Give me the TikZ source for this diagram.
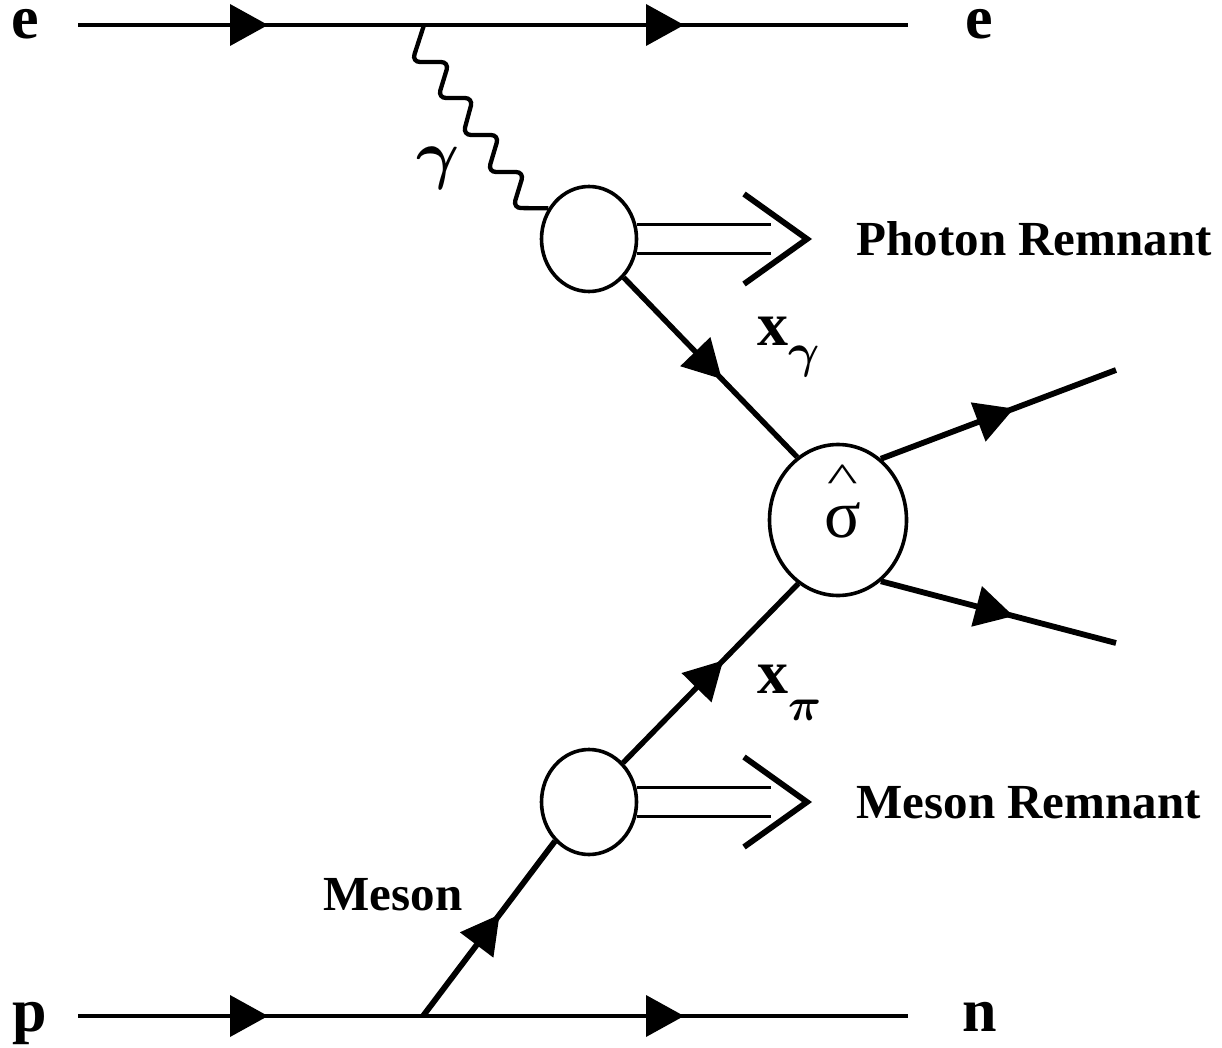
\documentclass[tikz,border=0pt]{standalone}
\usepackage{fontspec}
\setmainfont{Liberation Serif}
\usetikzlibrary{shapes.geometric,decorations.markings}
\newcommand{\bigsym}[2]{{\fontsize{10}{10}\selectfont\boldmath\scalebox{#1}{$#2$}}}
\tikzset{
  farrow/.style={postaction={decorate,decoration={markings,
      mark=at position #1 with {\fill (0,0) -- (-38,21) -- (-38,-21) -- cycle;}}}},
  prop/.style={line width=4.6pt},
  parton/.style={line width=5.4pt},
  outline/.style={line width=5.8pt},
  blob/.style={draw,ellipse,line width=3.6pt,inner sep=0pt},
  remline/.style={line width=3.7pt},
  chevron/.style={line width=5.8pt,miter limit=10},
  wave/.style={line width=4.3pt,rounded corners=8pt},
  big/.style={font=\fontsize{62}{62}\selectfont\bfseries,inner sep=0pt},
  lab/.style={font=\fontsize{49}{49}\selectfont\bfseries},
}
\begin{document}
\begin{tikzpicture}[x=1pt,y=-1pt]
\useasboundingbox (0,0) rectangle (1222,1048);
% blobs
\node[blob,minimum width=95pt,minimum height=105pt] (up) at (589,239) {};
\node[blob,minimum width=95pt,minimum height=105pt] (lo) at (589,802) {};
\node[blob,minimum width=137pt,minimum height=151pt] (sig) at (838,520) {};
% coordinates
\coordinate (eL) at (78,25);
\coordinate (eR) at (908,25);
\coordinate (pL) at (78,1016);
\coordinate (nR) at (908,1016);
\coordinate (vg) at (424,25);
\coordinate (mv) at (423,1016);
\coordinate (o1) at (1116,370);
\coordinate (o2) at (1116,643);
% lepton and baryon lines
\draw[prop,farrow=190pt,farrow=606pt] (eL) -- (eR);
\draw[prop,farrow=190pt,farrow=606pt] (pL) -- (nR);
% photon
\draw[wave] (vg) -- (412,62) -- (449,62) -- (438,98) -- (473,98) -- (463,135)
  -- (499,135) -- (488,172) -- (524,172) -- (513,208) -- (up.143);
% meson
\draw[outline,farrow=127pt] (mv) -- (lo.-131);
% partons
\draw[parton,farrow=141pt] (up.-48.9) -- (sig.123);
\draw[parton,farrow=143pt] (lo.49.6) -- (sig.-122.4);
\draw[outline,farrow=142pt] (sig.55.9) -- (o1);
\draw[outline,farrow=137pt] (sig.-55.9) -- (o2);
% remnants
\draw[remline] (up.17.7) -- ++(134,0);
\draw[remline] (up.-17.7) -- ++(134,0);
\draw[chevron] ([shift={(155,-45)}]up.center) -- ++(63,45) -- ++(-63,45);
\draw[remline] (lo.17.7) -- ++(134,0);
\draw[remline] (lo.-17.7) -- ++(134,0);
\draw[chevron] ([shift={(155,-45)}]lo.center) -- ++(63,45) -- ++(-63,45);
% labels
\node[big,anchor=base] (le) at (25,39) {e};
\node[big,anchor=base] (re) at (979,39) {e};
\node[big,anchor=base] (lp) at (30,1031) {p};
\node[big,anchor=base] (rn) at (980,1031) {n};
\node[lab,anchor=base west] (pr) at (853,256) {Photon Remnant};
\node[lab,anchor=base west] (mr) at (853,818) {Meson Remnant};
\node[lab,anchor=base west] (ml) at (320,910) {Meson};
\node[inner sep=0pt] (gl) at (438,168) {\bigsym{6.6}{\gamma}};
\node[big,anchor=base west] (xg) at (757,345)
  {x\raisebox{-22pt}{\bigsym{4.8}{\gamma}}};
\node[big,anchor=base west] (xp) at (757,693)
  {x\raisebox{-27pt}{\bigsym{4.6}{\pi}}};
\node[font=\fontsize{68}{68}\selectfont,inner sep=0pt] (sg) at (843,520) {σ};
\node[font=\fontsize{52}{52}\selectfont,inner sep=0pt,xscale=1.25,yscale=0.78] (ht) at (843,478) {\symbol{94}};
\end{tikzpicture}
\end{document}
